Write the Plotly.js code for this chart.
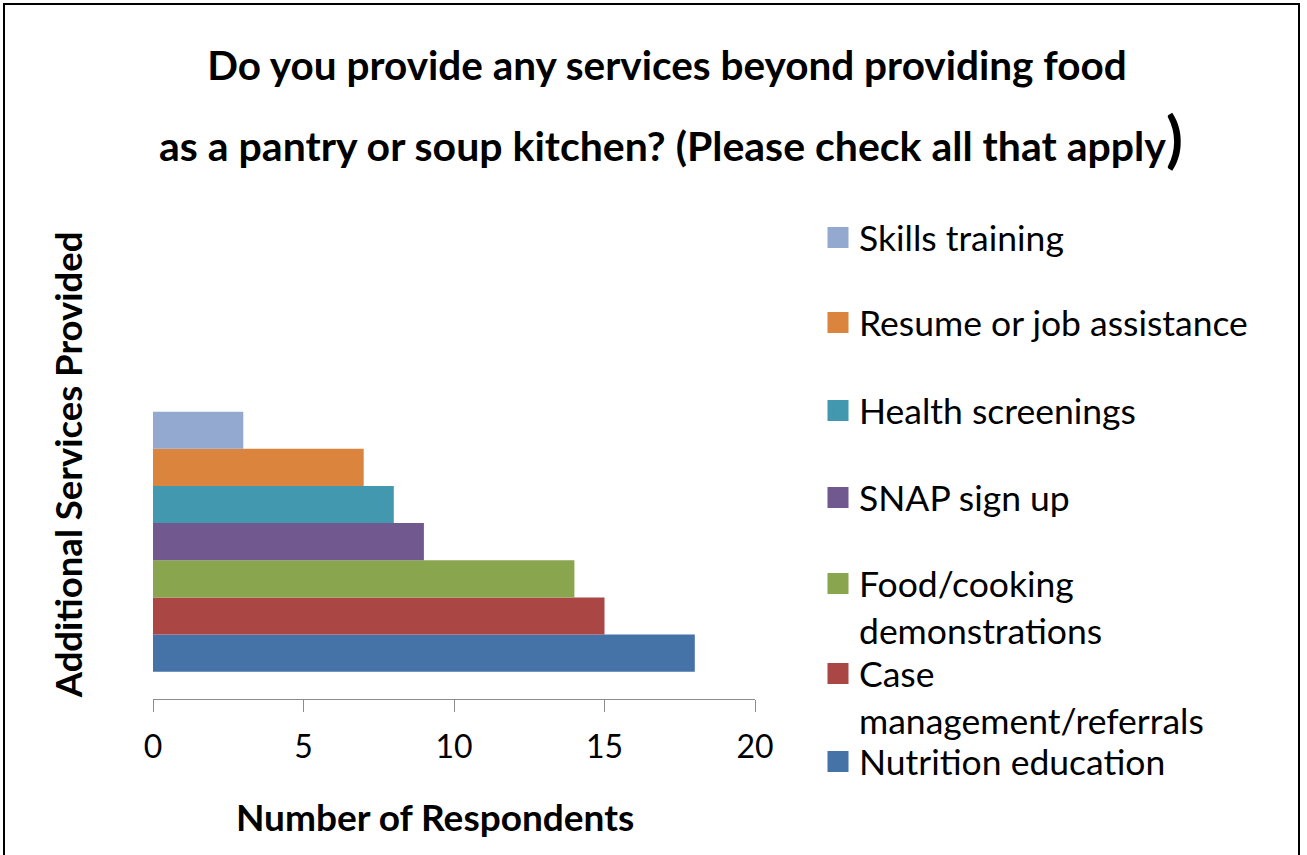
<!DOCTYPE html>
<html>
<head>
<meta charset="utf-8">
<script src="https://cdn.plot.ly/plotly-3.0.1.min.js"></script>
<style>
html,body{margin:0;padding:0;background:#fff;}
#chart{width:1307px;height:855px;}
#frame{position:absolute;left:3px;top:3px;width:1293px;height:900px;border:2px solid #000;border-bottom:none;pointer-events:none;}
</style>
</head>
<body>
<div id="chart"></div>
<div id="frame"></div>
<script>
// Data (bottom bar first)
const categories = ['Nutrition education','Case management/referrals','Food/cooking demonstrations','SNAP sign up','Health screenings','Resume or job assistance','Skills training'];
const legendLabels = ['Nutrition education','Case<br>management/referrals','Food/cooking<br>demonstrations','SNAP sign up','Health screenings','Resume or job assistance','Skills training'];
const values = [18, 15, 14, 9, 8, 7, 3];
const colors = ['#4572A7','#AA4643','#89A54E','#71588F','#4198AF','#DB843D','#93A9CF'];
const xTicks = [0, 5, 10, 15, 20];
const groupLabel = ['Services'];

const FONT = 'Lato, "Open Sans", sans-serif';

// plot area geometry (px)
const L = 153, R = 755, T = 230, B = 699, W = 1307, H = 855;
const py = p => (B - p) / (B - T);   // pixel y -> paper y
const px = p => (p - L) / (R - L);   // pixel x -> paper x

const traces = [];
categories.forEach((c, i) => {
  traces.push({
    type: 'bar', orientation: 'h',
    x: [values[i]], y: groupLabel,
    name: c, showlegend: false,
    marker: {color: colors[i], line: {width: 0}},
    hovertemplate: c + ': %{x}<extra></extra>'
  });
});

// legend entries
const legendCenters = [762, 697, 607, 498, 411, 323, 238];
const legendKeys = ['legend','legend2','legend3','legend4','legend5','legend6','legend7'];
categories.forEach((c, i) => {
  traces.push({
    type: 'scatter', mode: 'markers',
    x: [null], y: [null],
    name: legendLabels[i],
    legend: legendKeys[i],
    marker: {symbol: 'square', size: 16, color: colors[i], line: {width: 5, color: colors[i]}},
    hoverinfo: 'skip'
  });
});

const layout = {
  width: W, height: H,
  margin: {l: L, r: W - R, t: T, b: H - B, pad: 0},
  paper_bgcolor: '#fff', plot_bgcolor: 'rgba(0,0,0,0)',
  font: {family: FONT, color: '#000', size: 32},
  barmode: 'group', bargap: 0.2, bargroupgap: 0,
  title: {
    text: '<b>Do you provide any services beyond providing food</b>',
    font: {family: FONT, size: 40.5, color: '#000'},
    x: 667 / W, xref: 'container', xanchor: 'center',
    y: 1 - 66 / H, yref: 'container', yanchor: 'middle'
  },
  annotations: [{
    text: '<b>as a pantry or soup kitchen? (Please check all that apply<span style="font-size:62px">)</span></b>',
    xref: 'paper', yref: 'paper', x: px(671), y: py(137),
    xanchor: 'center', yanchor: 'middle', showarrow: false,
    font: {family: FONT, size: 41, color: '#000'}
  }],
  xaxis: {
    range: [0, 20], tickvals: xTicks, ticktext: xTicks.map(String),
    showgrid: false, zeroline: false,
    showline: true, linecolor: '#8c8c8c', linewidth: 1,
    ticks: 'outside', ticklen: 12, tickcolor: '#8c8c8c', tickwidth: 1,
    ticklabelstandoff: 8,
    tickfont: {family: FONT, size: 32, color: '#000'},
    title: {text: '<b>Number of Respondents</b>&nbsp;&nbsp;&nbsp;&nbsp;', font: {family: FONT, size: 37, color: '#000'}, standoff: 40},
    fixedrange: true
  },
  yaxis: {
    type: 'category', range: [-0.484, 0.959],
    showgrid: false, zeroline: false, showline: false, ticks: '', showticklabels: false,
    title: {text: '<b>Additional Services Provided</b>', font: {family: FONT, size: 36.5, color: '#000'}, standoff: 58},
    fixedrange: true
  },
  showlegend: true
};

legendKeys.forEach((k, i) => {
  layout[k] = {
    x: px(817), xanchor: 'left',
    y: py(legendCenters[i]), yanchor: 'middle',
    bgcolor: 'rgba(0,0,0,0)', borderwidth: 0,
    font: {family: FONT, size: 35.5, color: '#000'},
    valign: 'top', itemwidth: 32, itemclick: false, itemdoubleclick: false
  };
});

Plotly.newPlot('chart', traces, layout, {displayModeBar: false, responsive: false});
</script>
</body>
</html>
